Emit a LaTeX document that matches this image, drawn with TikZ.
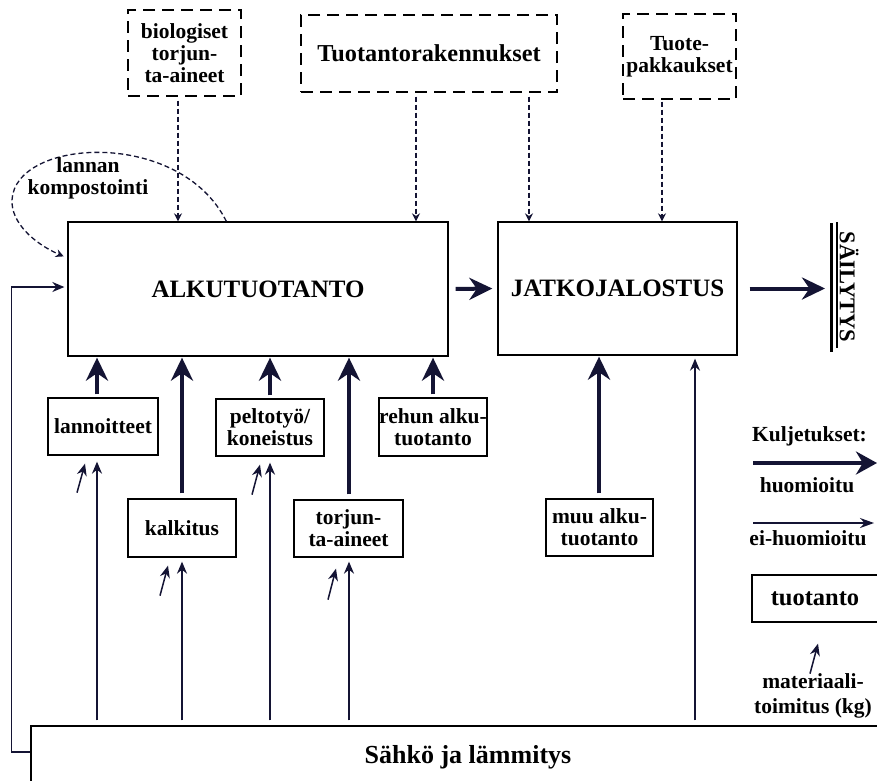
\documentclass[tikz,border=0pt]{standalone}
\usepackage{fontspec}
\setmainfont{Liberation Serif}
\usetikzlibrary{arrows.meta}
\definecolor{arr}{RGB}{20,20,52}
\begin{document}
\begin{tikzpicture}[x=1pt,y=-1pt,
 every node/.style={font=\bfseries\fontsize{21.5}{22}\selectfont, align=center, inner sep=0pt},
 box/.style={draw, line width=1.3pt},
 dbox/.style={draw, line width=1.4pt, dash pattern=on 12pt off 7pt},
 thickarr/.style={draw=arr, line width=4pt, -{Stealth[length=23pt,width=22pt]}},
 thinarr/.style={draw=arr, line width=1.5pt, -{Stealth[length=12pt,width=10pt]}},
 dasharr/.style={draw=arr, line width=1.3pt, dash pattern=on 5pt off 3pt, -{Stealth[length=8pt,width=8pt]}},
 big/.style={font=\bfseries\fontsize{25}{26}\selectfont}]
\useasboundingbox (0,0) rectangle (877,780);
\clip (0,0) rectangle (877,780);
\fill[white] (0,0) rectangle (877,780);

% main boxes
\node[box,big,minimum width=380pt,minimum height=134pt] (alku) at (258,289) {ALKUTUOTANTO};
\node[box,big,minimum width=239pt,minimum height=133pt] (jatko) at (617.5,288.5) {JATKOJALOSTUS};

% top dashed boxes
\node[dbox,minimum width=113pt,minimum height=86pt] (bio) at (184.5,53) {biologiset\\torjun-\\ta-aineet};
\node[dbox,font=\bfseries\fontsize{24.3}{26}\selectfont,minimum width=256pt,minimum height=77pt] (tuot) at (429,53.5) {Tuotantorakennukset};
\node[dbox,minimum width=113pt,minimum height=85pt,text depth=4pt] (pakk) at (679.5,56.5) {Tuote-\\pakkaukset};

% lower boxes
\node[box,minimum width=110pt,minimum height=57pt] (lann) at (103,426.5) {lannoitteet};
\node[box,minimum width=108pt,minimum height=58pt] (kalk) at (182,528) {kalkitus};
\node[box,minimum width=108pt,minimum height=57pt] (pelto) at (270,427.5) {peltotyö/\\koneistus};
\node[box,minimum width=109pt,minimum height=57pt] (torj) at (348.5,528.5) {torjun-\\ta-aineet};
\node[box,minimum width=108pt,minimum height=58pt] (rehu) at (433,427) {rehun alku-\\tuotanto};
\node[box,minimum width=107pt,minimum height=57pt] (muu) at (599.5,527.5) {muu alku-\\tuotanto};
\node[box,font=\bfseries\fontsize{26}{28}\selectfont,minimum width=874pt,minimum height=62pt] (sahko) at (468,757) {Sähkö ja lämmitys};

% column coordinates
\coordinate (c1) at (97,0);
\coordinate (c2) at (182,0);
\coordinate (c3) at (270,0);
\coordinate (c4) at (349,0);
\coordinate (c5) at (433,0);
\coordinate (c6) at (599,0);
\coordinate (c7) at (695,0);
\coordinate (d1) at (178,0);
\coordinate (d2) at (416,0);
\coordinate (d3) at (529,0);
\coordinate (d4) at (662,0);
\coordinate (bar) at (831,289);

% thick arrows into ALKUTUOTANTO / JATKOJALOSTUS
\draw[thickarr, shorten <=3pt, shorten >=1pt] (c1 |- lann.north) -- (c1 |- alku.south);
\draw[thickarr, shorten <=5pt, shorten >=1pt] (c2 |- kalk.north) -- (c2 |- alku.south);
\draw[thickarr, shorten <=3pt, shorten >=1pt] (c3 |- pelto.north) -- (c3 |- alku.south);
\draw[thickarr, shorten <=5pt, shorten >=1pt] (c4 |- torj.north) -- (c4 |- alku.south);
\draw[thickarr, shorten <=3pt, shorten >=1pt] (c5 |- rehu.north) -- (c5 |- alku.south);
\draw[thickarr, shorten <=5pt, shorten >=1pt] (c6 |- muu.north) -- (c6 |- jatko.south);

% thin arrows from Sahko
\draw[thinarr, shorten <=5pt, shorten >=6pt] (c1 |- sahko.north) -- (c1 |- lann.south);
\draw[thinarr, shorten <=5pt, shorten >=4pt] (c2 |- sahko.north) -- (c2 |- kalk.south);
\draw[thinarr, shorten <=5pt, shorten >=6pt] (c3 |- sahko.north) -- (c3 |- pelto.south);
\draw[thinarr, shorten <=5pt, shorten >=4pt] (c4 |- sahko.north) -- (c4 |- torj.south);
\draw[thinarr, shorten <=5pt, shorten >=3pt] (c7 |- sahko.north) -- (c7 |- jatko.south);
\draw[thinarr, shorten >=3pt] ([yshift=5pt]sahko.west) -- ++(-19,0) |- ([yshift=2pt]alku.west);

% material arrows
\draw[thinarr] ([shift={(-26,37)}]lann.south) -- ([shift={(-18,8)}]lann.south);
\draw[thinarr] ([shift={(-22,38)}]kalk.south) -- ([shift={(-14,8)}]kalk.south);
\draw[thinarr] ([shift={(-18,38)}]pelto.south) -- ([shift={(-10,8)}]pelto.south);
\draw[thinarr] ([shift={(-20.5,42)}]torj.south) -- ([shift={(-12.5,11)}]torj.south);

% dashed arrows
\draw[dasharr, shorten <=4pt] (d1 |- bio.south) -- (d1 |- alku.north);
\draw[dasharr, shorten <=4pt] (d2 |- tuot.south) -- (d2 |- alku.north);
\draw[dasharr, shorten <=4pt] (d3 |- tuot.south) -- (d3 |- jatko.north);
\draw[dasharr, shorten <=2pt] (d4 |- pakk.south) -- (d4 |- jatko.north);
\draw[dasharr, shorten >=4pt] ([xshift=159pt]alku.north west) .. controls (180,128) and (15,138) .. (12,200) .. controls (11,222) and (33,243) .. ([yshift=31pt]alku.west);
\node (komp) at (88,178) {lannan\\kompostointi};

% horizontal flow
\draw[thickarr, shorten <=7pt, shorten >=5pt] (alku.east) -- (jatko.west);
\draw[thickarr, shorten <=12pt, shorten >=6pt] (jatko.east) -- (jatko.east -| bar);
\draw[line width=3pt] (831,223) -- (831,352);
\draw[line width=1.5pt] (837,222) -- (837,348);
\node[rotate=-90, font=\bfseries\fontsize{22.5}{24}\selectfont] (sail) at (849,287) {SÄILYTYS};

% legend
\node[anchor=west] (kulj) at (752,436) {Kuljetukset:};
\coordinate (la1) at (753,463);
\coordinate (la2) at (877,463);
\draw[thickarr, -{Stealth[length=21pt,width=23pt]}] (la1) -- (la2);
\node (huom) at (807,485) {huomioitu};
\coordinate (lb1) at (753,523);
\coordinate (lb2) at (874,523);
\draw[thinarr, -{Stealth[length=14pt,width=10pt]}] (lb1) -- (lb2);
\node (eih) at (808,538) {ei-huomioitu};
\node[box,font=\bfseries\fontsize{24.5}{26}\selectfont,minimum width=126pt,minimum height=47pt] (leg) at (815,598.5) {tuotanto};
\draw[thinarr] ([shift={(-5,51)}]leg.south) -- ([shift={(3,21)}]leg.south);
\node[font=\bfseries\fontsize{21.5}{25}\selectfont] (mat) at (813,696) {materiaali-\\toimitus (kg)};
\end{tikzpicture}
\end{document}
